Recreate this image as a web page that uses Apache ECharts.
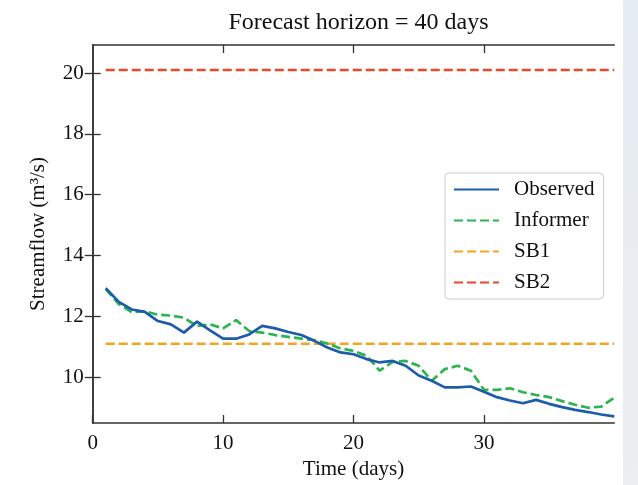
<!DOCTYPE html>
<html>
<head>
<meta charset="utf-8">
<script src="https://cdn.jsdelivr.net/npm/echarts@6/dist/echarts.min.js"></script>
<style>
html,body{margin:0;padding:0;background:#fff;}
#chart{width:638px;height:485px;}
</style>
</head>
<body>
<div id="chart"></div>
<script>
const titleText = 'Forecast horizon = 40 days';
const xName = 'Time (days)';
const yName = 'Streamflow (m\u00b3/s)';
const seriesNames = ['Observed', 'Informer', 'SB1', 'SB2'];
const xTicks = [0, 10, 20, 30];
const yTicks = [10, 12, 14, 16, 18, 20];
const days = [1,2,3,4,5,6,7,8,9,10,11,12,13,14,15,16,17,18,19,20,21,22,23,24,25,26,27,28,29,30,31,32,33,34,35,36,37,38,39,40];
const observed = [12.93,12.48,12.23,12.15,11.85,11.74,11.47,11.83,11.54,11.27,11.27,11.41,11.69,11.61,11.49,11.39,11.20,10.98,10.82,10.76,10.60,10.49,10.54,10.38,10.06,9.89,9.67,9.67,9.70,9.53,9.35,9.24,9.15,9.26,9.13,9.02,8.93,8.86,8.78,8.72];
const informer = [12.90,12.41,12.14,12.17,12.06,12.03,11.96,11.69,11.74,11.61,11.88,11.52,11.47,11.39,11.33,11.27,11.22,11.11,10.95,10.87,10.71,10.22,10.51,10.54,10.38,9.89,10.27,10.38,10.22,9.59,9.59,9.64,9.51,9.42,9.35,9.22,9.10,9.00,9.04,9.33];
const sb1 = [11.1,11.1,11.1,11.1,11.1,11.1,11.1,11.1,11.1,11.1,11.1,11.1,11.1,11.1,11.1,11.1,11.1,11.1,11.1,11.1,11.1,11.1,11.1,11.1,11.1,11.1,11.1,11.1,11.1,11.1,11.1,11.1,11.1,11.1,11.1,11.1,11.1,11.1,11.1,11.1];
const sb2 = [20.1,20.1,20.1,20.1,20.1,20.1,20.1,20.1,20.1,20.1,20.1,20.1,20.1,20.1,20.1,20.1,20.1,20.1,20.1,20.1,20.1,20.1,20.1,20.1,20.1,20.1,20.1,20.1,20.1,20.1,20.1,20.1,20.1,20.1,20.1,20.1,20.1,20.1,20.1,20.1];

const colors = ['#1d5ca8', '#2db34f', '#f3a521', '#e8482c'];
const serif = 'Liberation Serif, Times New Roman, serif';
const frame = '#333333';

function pairs(vals) { return days.map((d, i) => [d, vals[i]]); }

const chart = echarts.init(document.getElementById('chart'), null, {renderer: 'canvas'});

const axisLineStyle = {show: true, lineStyle: {color: frame, width: 1.5}};
const tickStyle = {show: true, inside: true, length: 8, lineStyle: {color: frame, width: 1.3}};

chart.setOption({
  animation: false,
  backgroundColor: '#ffffff',
  title: {
    text: titleText,
    left: 353.5,
    top: 6,
    textAlign: 'center',
    textStyle: {fontFamily: serif, fontSize: 24, fontWeight: 'normal', color: '#111'}
  },
  graphic: [{
    type: 'rect',
    shape: {x: 623, y: 0, width: 15, height: 485},
    style: {fill: new echarts.graphic.LinearGradient(0, 0, 0, 1, [
      {offset: 0, color: '#e6ecf3'}, {offset: 1, color: '#eceef0'}
    ])},
    z: -1
  }],
  grid: {left: 92.7, right: 23.7, top: 45, bottom: 59.3},
  legend: {
    orient: 'vertical',
    left: 445,
    top: 173,
    padding: [6, 9, 6, 8],
    itemWidth: 45,
    itemHeight: 14,
    itemGap: 10,
    backgroundColor: '#ffffff',
    borderColor: '#cccccc',
    borderWidth: 1,
    borderRadius: 4,
    data: seriesNames,
    itemStyle: {opacity: 0},
    textStyle: {fontFamily: serif, fontSize: 21, color: '#111', padding: [0, 0, 0, 10], lineHeight: 21}
  },
  xAxis: [{
    type: 'value', min: 0, max: 40,
    name: xName, nameLocation: 'middle', nameGap: 36,
    nameTextStyle: {fontFamily: serif, fontSize: 21, color: '#111'},
    axisLine: axisLineStyle,
    axisTick: Object.assign({customValues: xTicks}, tickStyle),
    axisLabel: {customValues: xTicks, fontFamily: serif, fontSize: 21, color: '#111', margin: 10},
    splitLine: {show: false}
  }, {
    type: 'value', min: 0, max: 40, position: 'top',
    axisLine: axisLineStyle,
    axisTick: Object.assign({customValues: [10, 20, 30]}, tickStyle),
    axisLabel: {show: false},
    splitLine: {show: false}
  }],
  yAxis: [{
    type: 'value', min: 8.5, max: 20.92,
    name: yName, nameLocation: 'middle', nameGap: 44,
    nameTextStyle: {fontFamily: serif, fontSize: 21, color: '#111'},
    axisLine: axisLineStyle,
    axisTick: Object.assign({customValues: yTicks}, tickStyle),
    axisLabel: {customValues: yTicks, fontFamily: serif, fontSize: 21, color: '#111', margin: 9},
    splitLine: {show: false}
  }, {
    type: 'value', min: 8.5, max: 20.92, position: 'right',
    axisLine: axisLineStyle,
    axisTick: Object.assign({customValues: yTicks}, tickStyle),
    axisLabel: {show: false},
    splitLine: {show: false}
  }],
  series: [
    {name: seriesNames[0], type: 'line', data: pairs(observed), symbol: 'none', color: colors[0],
     lineStyle: {color: colors[0], width: 2.7, type: 'solid'}, z: 5},
    {name: seriesNames[1], type: 'line', data: pairs(informer), symbol: 'none', color: colors[1],
     lineStyle: {color: colors[1], width: 2.7, type: [9, 4]}, z: 4},
    {name: seriesNames[2], type: 'line', data: pairs(sb1), symbol: 'none', color: colors[2],
     lineStyle: {color: colors[2], width: 2.5, type: [9, 4]}, z: 3},
    {name: seriesNames[3], type: 'line', data: pairs(sb2), symbol: 'none', color: colors[3],
     lineStyle: {color: colors[3], width: 2.5, type: [9, 4]}, z: 3}
  ]
});
</script>
</body>
</html>
